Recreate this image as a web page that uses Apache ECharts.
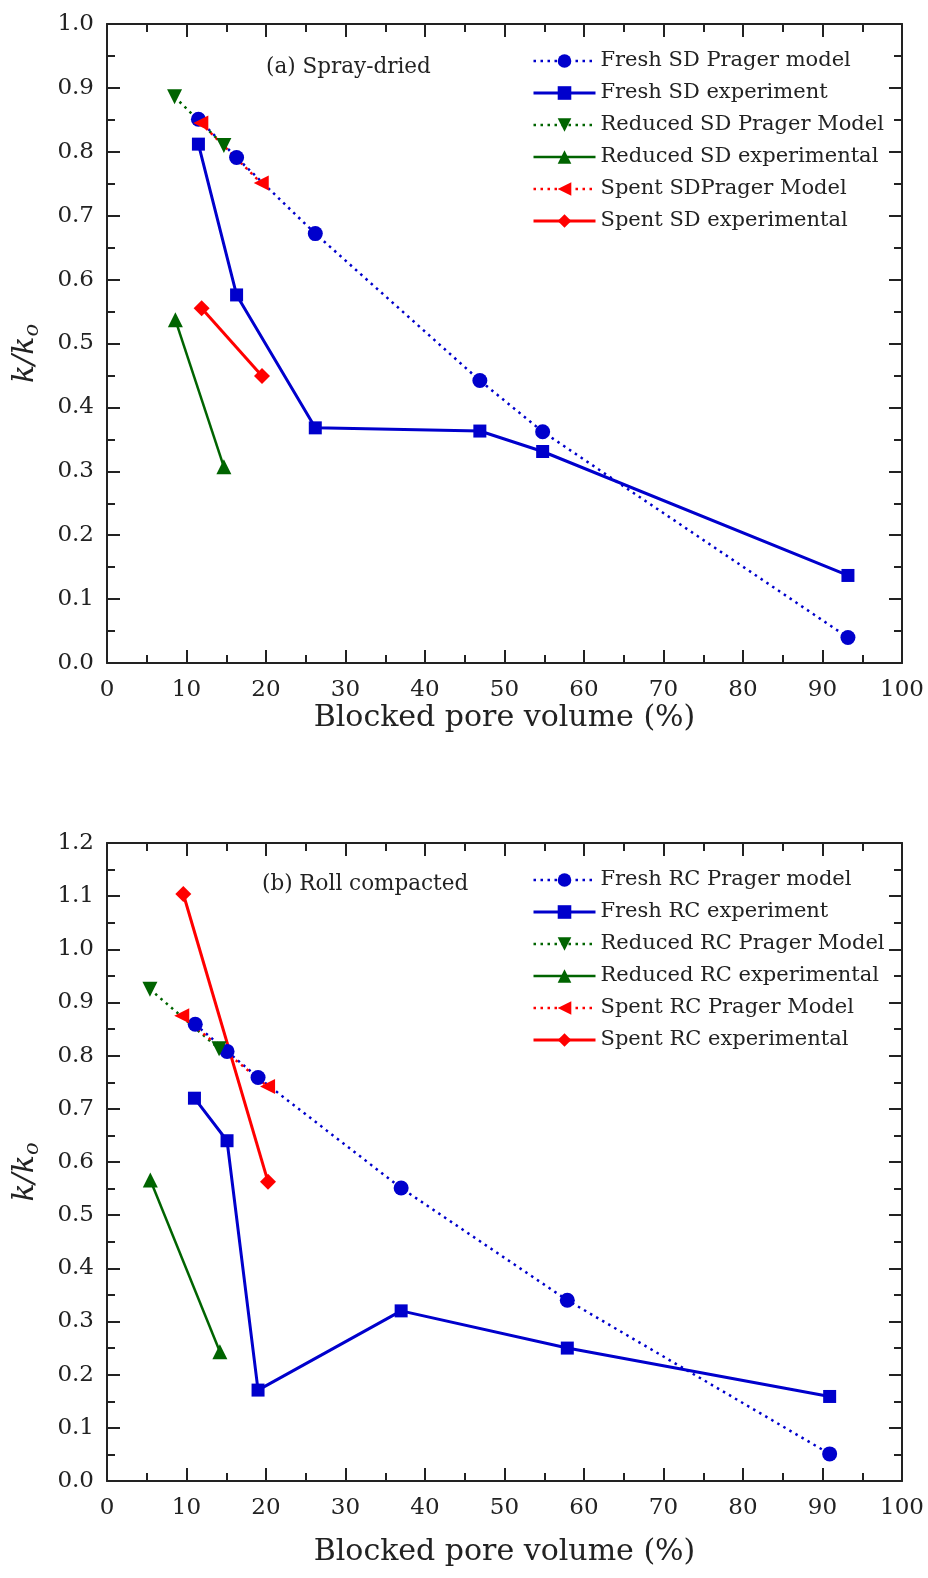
<!DOCTYPE html>
<html>
<head>
<meta charset="utf-8">
<script src="https://cdn.jsdelivr.net/npm/echarts@6/dist/echarts.min.js"></script>
<style>
  html, body { margin: 0; padding: 0; background: #ffffff; }
  #chart { width: 928px; height: 1578px; }
</style>
</head>
<body>
<div id="chart"></div>
<script>
// ---- Panel (a): spray-dried samples ----
const sdFreshModelX   = [11.5, 16.3, 26.2, 46.9, 54.8, 93.2];
const sdFreshModelY   = [0.851, 0.791, 0.672, 0.442, 0.362, 0.040];
const sdFreshExpX     = [11.5, 16.3, 26.2, 46.9, 54.8, 93.2];
const sdFreshExpY     = [0.812, 0.576, 0.368, 0.363, 0.331, 0.137];
const sdReducedModelX = [8.5, 14.7];
const sdReducedModelY = [0.886, 0.810];
const sdReducedExpX   = [8.6, 14.7];
const sdReducedExpY   = [0.537, 0.307];
const sdSpentModelX   = [11.8, 19.4];
const sdSpentModelY   = [0.845, 0.751];
const sdSpentExpX     = [11.9, 19.5];
const sdSpentExpY     = [0.555, 0.449];

// ---- Panel (b): roll-compacted samples ----
const rcFreshModelX   = [11.1, 15.1, 19.0, 37.0, 57.9, 90.9];
const rcFreshModelY   = [0.859, 0.808, 0.759, 0.551, 0.340, 0.051];
const rcFreshExpX     = [11.0, 15.1, 19.0, 37.0, 57.9, 90.9];
const rcFreshExpY     = [0.720, 0.640, 0.171, 0.320, 0.250, 0.159];
const rcReducedModelX = [5.4, 14.1];
const rcReducedModelY = [0.925, 0.813];
const rcReducedExpX   = [5.45, 14.2];
const rcReducedExpY   = [0.566, 0.243];
const rcSpentModelX   = [9.4, 20.2];
const rcSpentModelY   = [0.875, 0.742];
const rcSpentExpX     = [9.6, 20.25];
const rcSpentExpY     = [1.104, 0.563];

const sdNames = ['Fresh SD Prager model', 'Fresh SD experiment', 'Reduced SD Prager Model',
                 'Reduced SD experimental', 'Spent SDPrager Model', 'Spent SD experimental'];
const rcNames = ['Fresh RC Prager model', 'Fresh RC experiment', 'Reduced RC Prager Model',
                 'Reduced RC experimental', 'Spent RC Prager Model', 'Spent RC experimental'];
const xTicks = { min: 0, max: 100, interval: 10 };
const yMaxA = 1.0, yMaxB = 1.2, yStep = 0.1;
const panelTitles = ['(a) Spray-dried', '(b) Roll compacted'];

const BLUE = '#0000cc', GREEN = '#006400', RED = '#ff0000', INK = '#222222';
const SERIF = '"DejaVu Serif", serif';
const DOT = [2.5, 4.5];

// marker/line style per series kind
const kinds = [
  { color: BLUE,  symbol: 'circle',   rot: 0,   size: 15, dotted: true,  width: 2.5 },
  { color: BLUE,  symbol: 'rect',     rot: 0,   size: 13, dotted: false, width: 3 },
  { color: GREEN, symbol: 'triangle', rot: 180, size: 15, dotted: true,  width: 2.5 },
  { color: GREEN, symbol: 'triangle', rot: 0,   size: 15, dotted: false, width: 2.5 },
  { color: RED,   symbol: 'triangle', rot: 90,  size: 15, dotted: true,  width: 2.5 },
  { color: RED,   symbol: 'diamond',  rot: 0,   size: 16, dotted: false, width: 3 }
];

function pairs(xs, ys) { return xs.map((x, i) => [x, ys[i]]); }

function makeSeries(name, xs, ys, k, axisIdx) {
  return {
    type: 'line', name: name,
    xAxisIndex: axisIdx, yAxisIndex: axisIdx,
    data: pairs(xs, ys),
    symbol: k.symbol, symbolRotate: k.rot, symbolSize: k.size,
    showAllSymbol: true,
    itemStyle: { color: k.color },
    lineStyle: { color: k.color, width: k.width, type: k.dotted ? DOT : 'solid' },
    emphasis: { disabled: true },
    animation: false
  };
}

const sdData = [
  [sdFreshModelX, sdFreshModelY], [sdFreshExpX, sdFreshExpY],
  [sdReducedModelX, sdReducedModelY], [sdReducedExpX, sdReducedExpY],
  [sdSpentModelX, sdSpentModelY], [sdSpentExpX, sdSpentExpY]
];
const rcData = [
  [rcFreshModelX, rcFreshModelY], [rcFreshExpX, rcFreshExpY],
  [rcReducedModelX, rcReducedModelY], [rcReducedExpX, rcReducedExpY],
  [rcSpentModelX, rcSpentModelY], [rcSpentExpX, rcSpentExpY]
];

const series = [];
sdData.forEach((d, i) => series.push(makeSeries(sdNames[i], d[0], d[1], kinds[i], 0)));
rcData.forEach((d, i) => series.push(makeSeries(rcNames[i], d[0], d[1], kinds[i], 2)));

const axisLine = { show: true, onZero: false, lineStyle: { color: INK, width: 2 } };
const tick = { show: true, inside: true, length: 13, lineStyle: { color: INK, width: 2 } };
const minor = { show: true, splitNumber: 2, length: 8, lineStyle: { color: INK, width: 2 } };
const labelFont = { color: INK, fontFamily: SERIF, fontSize: 23 };

function xAxes(grid, nameGap) {
  return [
    { type: 'value', gridIndex: grid, position: 'bottom', min: xTicks.min, max: xTicks.max, interval: xTicks.interval,
      axisLine: axisLine, axisTick: tick, minorTick: minor, splitLine: { show: false },
      axisLabel: Object.assign({ margin: 16 }, labelFont),
      name: 'Blocked pore volume (%)', nameLocation: 'middle', nameGap: nameGap,
      nameTextStyle: { color: INK, fontFamily: SERIF, fontSize: 30 } },
    { type: 'value', gridIndex: grid, position: 'top', min: xTicks.min, max: xTicks.max, interval: xTicks.interval,
      axisLine: axisLine, axisTick: tick, minorTick: minor, splitLine: { show: false },
      axisLabel: { show: false } }
  ];
}
function yAxes(grid, yMax) {
  return [
    { type: 'value', gridIndex: grid, position: 'left', min: 0, max: yMax, interval: yStep,
      axisLine: axisLine, axisTick: tick, minorTick: minor, splitLine: { show: false },
      axisLabel: Object.assign({ margin: 13, formatter: v => v.toFixed(1) }, labelFont),
      name: '{i|k/k}{s|o}', nameLocation: 'middle', nameGap: 64,
      nameTextStyle: {
        padding: [0, 20, 0, 0],
        rich: {
          i: { fontFamily: SERIF, fontStyle: 'italic', fontSize: 30, color: INK },
          s: { fontFamily: SERIF, fontStyle: 'italic', fontSize: 21, color: INK, padding: [14, 0, 0, 0] }
        }
      } },
    { type: 'value', gridIndex: grid, position: 'right', min: 0, max: yMax, interval: yStep,
      axisLine: axisLine, axisTick: tick, minorTick: minor, splitLine: { show: false },
      axisLabel: { show: false } }
  ];
}

// legend entries carry the series line weight so the icons look like the lines
function legendData(names) {
  return names.map((n, i) => ({ name: n, lineStyle: { width: kinds[i].width } }));
}

const legendBase = {
  orient: 'vertical', left: 532, padding: 0, itemWidth: 62, itemHeight: 17, itemGap: 10,
  textStyle: { color: INK, fontFamily: SERIF, fontSize: 21, lineHeight: 22 },
  selectedMode: false
};

const option = {
  backgroundColor: '#ffffff',
  animation: false,
  grid: [
    { left: 107, right: 26, top: 24, height: 639 },
    { left: 107, right: 26, top: 843, height: 638 }
  ],
  xAxis: xAxes(0, 40).concat(xAxes(1, 56)),
  yAxis: yAxes(0, yMaxA).concat(yAxes(1, yMaxB)),
  title: [
    { text: panelTitles[0], left: 266, top: 56, padding: 0,
      textStyle: { color: INK, fontFamily: SERIF, fontSize: 21.5, fontWeight: 'normal' } },
    { text: panelTitles[1], left: 262, top: 873, padding: 0,
      textStyle: { color: INK, fontFamily: SERIF, fontSize: 21.5, fontWeight: 'normal' } }
  ],
  legend: [
    Object.assign({ top: 50, data: legendData(sdNames) }, legendBase),
    Object.assign({ top: 869, data: legendData(rcNames) }, legendBase)
  ],
  series: series
};

const chart = echarts.init(document.getElementById('chart'), null, { renderer: 'canvas' });
chart.setOption(option);
</script>
</body>
</html>
